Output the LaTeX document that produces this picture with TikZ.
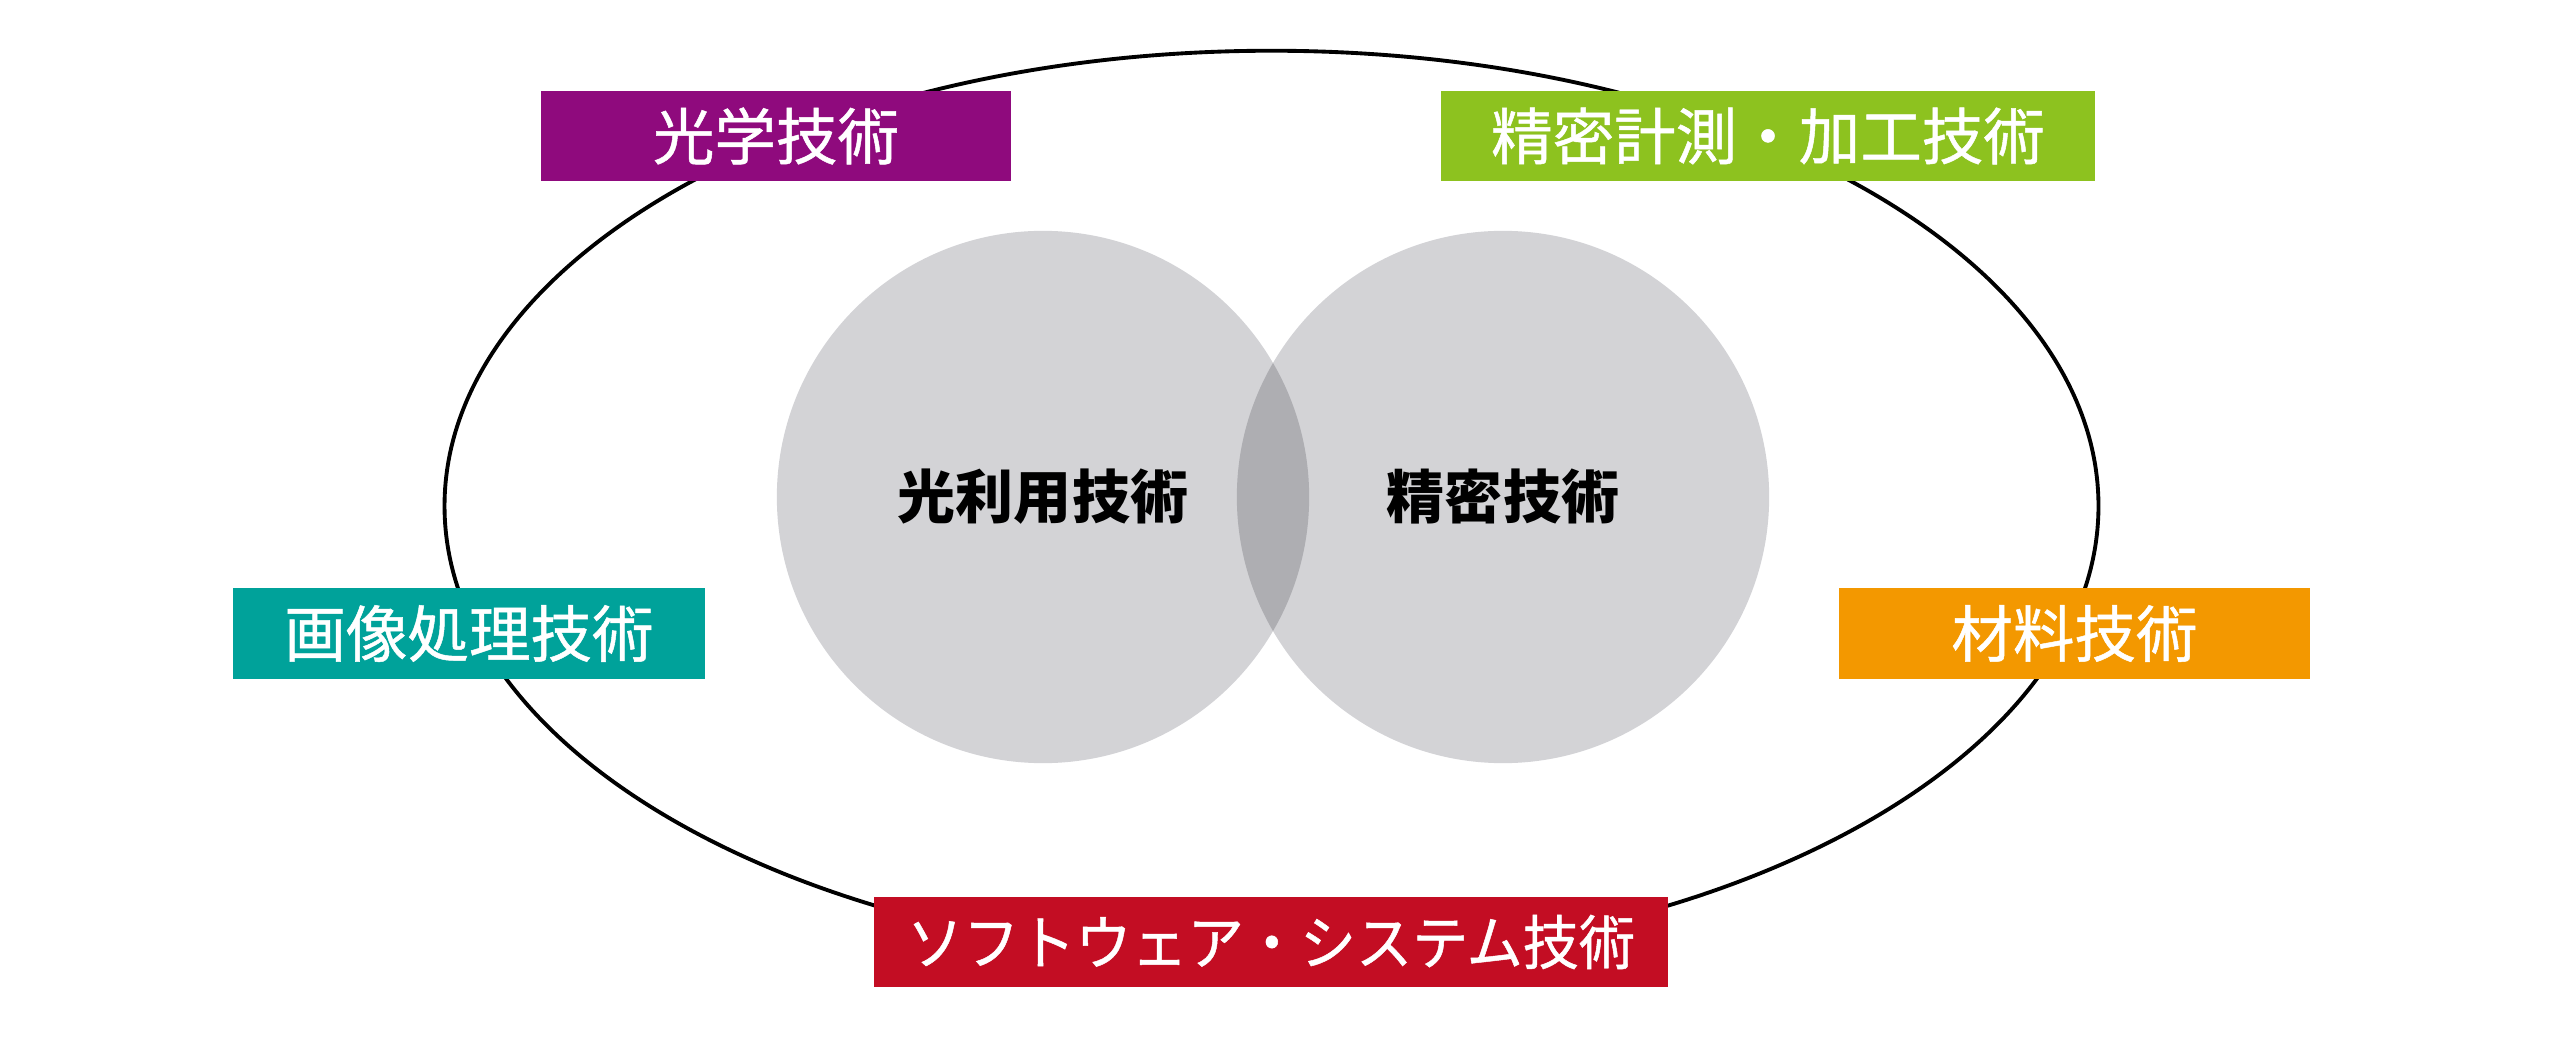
\documentclass[tikz,border=0pt]{standalone}
\usepackage{fontspec}
\newfontfamily\jpfont{Noto Sans CJK JP}
\newfontfamily\jpboxfont[FakeBold=0.8]{Noto Sans CJK JP}
\definecolor{optpurple}{HTML}{8F0A7D}
\definecolor{precgreen}{HTML}{8DC21F}
\definecolor{imgteal}{HTML}{00A29A}
\definecolor{matorange}{HTML}{F39800}
\definecolor{softred}{HTML}{C30D23}
\definecolor{venngray}{HTML}{D3D3D6}
\definecolor{lensgray}{HTML}{AEAEB2}
\begin{document}
\begin{tikzpicture}[x=0.01cm, y=-0.01cm,
    techbox/.style={fill=#1, text=white, minimum height=0.9cm, inner sep=0pt,
        font=\jpboxfont\fontsize{17.5}{20}\selectfont},
    venn/.style={circle, fill=venngray, minimum size=5.32cm, inner sep=0pt,
        font=\jpfont\bfseries\fontsize{16.5}{20}\selectfont}]
    \useasboundingbox (0,0) rectangle (2560,1040);

    \draw[line width=1.1pt] (1271.5,506) ellipse[x radius=8.265cm, y radius=4.55cm];

    \node[venn] (hikari)   at (1043,497) {光利用技術};
    \node[venn] (seimitsu) at (1503,497) {精密技術};
    \begin{scope}
        \clip (hikari.center) circle[radius=2.66cm];
        \fill[lensgray] (seimitsu.center) circle[radius=2.66cm];
    \end{scope}

    \node[techbox=optpurple, minimum width=4.70cm] (kogaku)  at (776,136)    {光学技術};
    \node[techbox=precgreen, minimum width=6.54cm] (keisoku) at (1768,136)   {精密計測・加工技術};
    \node[techbox=imgteal,   minimum width=4.72cm] (gazo)    at (469,633.5)  {画像処理技術};
    \node[techbox=matorange, minimum width=4.71cm] (zairyo)  at (2074.5,633.5) {材料技術};
    \node[techbox=softred,   minimum width=7.94cm,
        font=\jpboxfont\addfontfeature{FakeStretch=0.95}\fontsize{16.8}{20}\selectfont]
        (soft) at (1271,942) {ソフトウェア・システム技術};
\end{tikzpicture}
\end{document}
